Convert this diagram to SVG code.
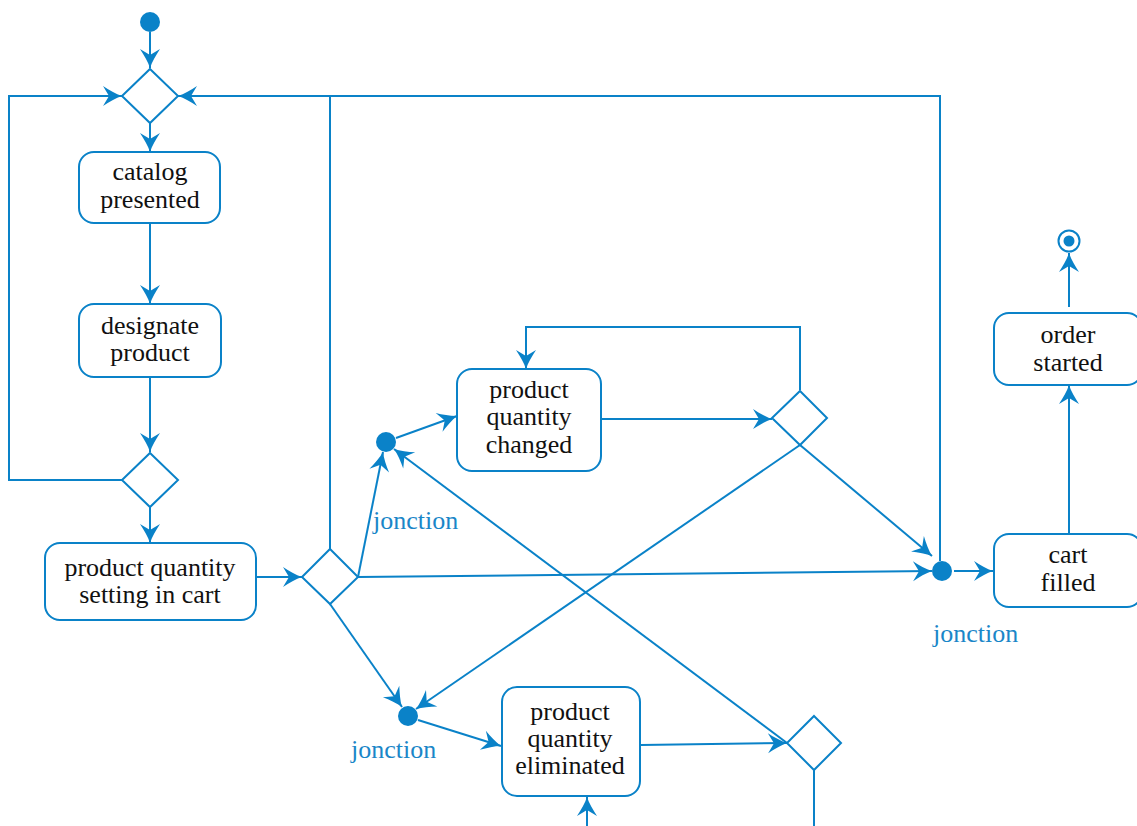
<svg xmlns="http://www.w3.org/2000/svg" width="1137" height="826" viewBox="0 0 1137 826">
<defs>
<style>
.bg{fill:#ffffff}
.box{fill:#ffffff;stroke:#0a82c8;stroke-width:2}
.dia{fill:#ffffff;stroke:#0a82c8;stroke-width:2}
.dot{fill:#0a82c8}
.edge{fill:none;stroke:#0a82c8;stroke-width:2;marker-end:url(#ah)}
.plain{fill:none;stroke:#0a82c8;stroke-width:2}
.t{font-size:26px;fill:#111111;text-anchor:middle}
.lbl{font-size:26px;fill:#1a86c8}
</style>
<marker id="ah" markerUnits="userSpaceOnUse" markerWidth="24" markerHeight="24" viewBox="-21 -12 23 24" refX="0" refY="0" orient="auto">
<path d="M0,0 C-6,-2 -13,-6 -19,-10 L-13,0 L-19,10 C-13,6 -6,2 0,0 Z" fill="#0a82c8"/>
</marker>
</defs>
<rect class="bg" x="0" y="0" width="1137" height="826"/>

<g id="connectors">
<path class="plain" d="M330,549 L330,96"/>
<path class="edge" d="M150,32 L150,68"/>
<path class="edge" d="M150,123 L150,152"/>
<path class="edge" d="M150,223 L150,304"/>
<path class="edge" d="M150,377 L150,452"/>
<path class="edge" d="M122,480 L9,480 L9,96 L122,96"/>
<path class="edge" d="M150,507 L150,543"/>
<path class="edge" d="M256,577 L302,577"/>
<path class="edge" d="M358,577 L383,452"/>
<path class="edge" d="M358,577 L932,571"/>
<path class="edge" d="M330,604 L402,707"/>
<path class="edge" d="M940,561 L940,96 L178,96"/>
<path class="edge" d="M396,438 L457,416"/>
<path class="edge" d="M601,419 L772,419"/>
<path class="edge" d="M800,390 L800,327 L526,327 L526,369"/>
<path class="edge" d="M800,445 L932,556"/>
<path class="edge" d="M800,445 L416,709"/>
<path class="edge" d="M418,720 L501,746"/>
<path class="edge" d="M641,745 L787,743"/>
<path class="edge" d="M787,743 L394,449"/>
<path class="plain" d="M814,770 L814,826"/>
<path class="edge" d="M587,826 L587,797"/>
<path class="edge" d="M954,571 L993,571"/>
<path class="edge" d="M1069,534 L1069,385"/>
<path class="edge" d="M1069,307 L1069,253"/>
</g>

<g id="initial"><circle class="dot" cx="150" cy="22" r="10"/></g>
<g id="final"><circle cx="1069" cy="241" r="10.5" fill="#ffffff" stroke="#0a82c8" stroke-width="2"/><circle class="dot" cx="1069" cy="241" r="5.5"/></g>

<g id="decision1"><polygon class="dia" points="150,69 178,96 150,123 122,96"/></g>
<g id="decision2"><polygon class="dia" points="150,453 178,480 150,507 122,480"/></g>
<g id="decision3"><polygon class="dia" points="330,549 358,577 330,604 302,577"/></g>
<g id="decision4"><polygon class="dia" points="800,391 827,418 800,445 772,418"/></g>
<g id="decision5"><polygon class="dia" points="814,716 841,743 814,770 787,743"/></g>

<g font-family="'Liberation Serif', 'DejaVu Serif', 'Times New Roman', serif">
<g id="catalog-presented">
<rect class="box" x="79" y="152" width="141" height="71" rx="15"/>
<text class="t"><tspan x="150" y="180">catalog</tspan><tspan x="150" y="208">presented</tspan></text>
</g>
<g id="designate-product">
<rect class="box" x="79" y="304" width="142" height="73" rx="15"/>
<text class="t"><tspan x="150" y="334">designate</tspan><tspan x="150" y="361">product</tspan></text>
</g>
<g id="quantity-setting">
<rect class="box" x="45" y="543" width="211" height="77" rx="15"/>
<text class="t"><tspan x="150" y="576">product quantity</tspan><tspan x="150" y="603">setting in cart</tspan></text>
</g>
<g id="quantity-changed">
<rect class="box" x="457" y="369" width="144" height="102" rx="15"/>
<text class="t"><tspan x="529" y="398">product</tspan><tspan x="529" y="425">quantity</tspan><tspan x="529" y="453">changed</tspan></text>
</g>
<g id="quantity-eliminated">
<rect class="box" x="502" y="687" width="138" height="109" rx="15"/>
<text class="t"><tspan x="570" y="720">product</tspan><tspan x="570" y="747">quantity</tspan><tspan x="570" y="774">eliminated</tspan></text>
</g>
<g id="cart-filled">
<rect class="box" x="994" y="534" width="148" height="73" rx="15"/>
<text class="t"><tspan x="1068" y="563">cart</tspan><tspan x="1068" y="591">filled</tspan></text>
</g>
<g id="order-started">
<rect class="box" x="994" y="313" width="148" height="72" rx="15"/>
<text class="t"><tspan x="1068" y="343">order</tspan><tspan x="1068" y="371">started</tspan></text>
</g>

<g id="junction1"><circle class="dot" cx="386" cy="442" r="10"/><text class="lbl" x="373" y="529">jonction</text></g>
<g id="junction2"><circle class="dot" cx="942" cy="571" r="10"/><text class="lbl" x="933" y="642">jonction</text></g>
<g id="junction3"><circle class="dot" cx="408" cy="716" r="10"/><text class="lbl" x="351" y="758">jonction</text></g>
</g>
</svg>
